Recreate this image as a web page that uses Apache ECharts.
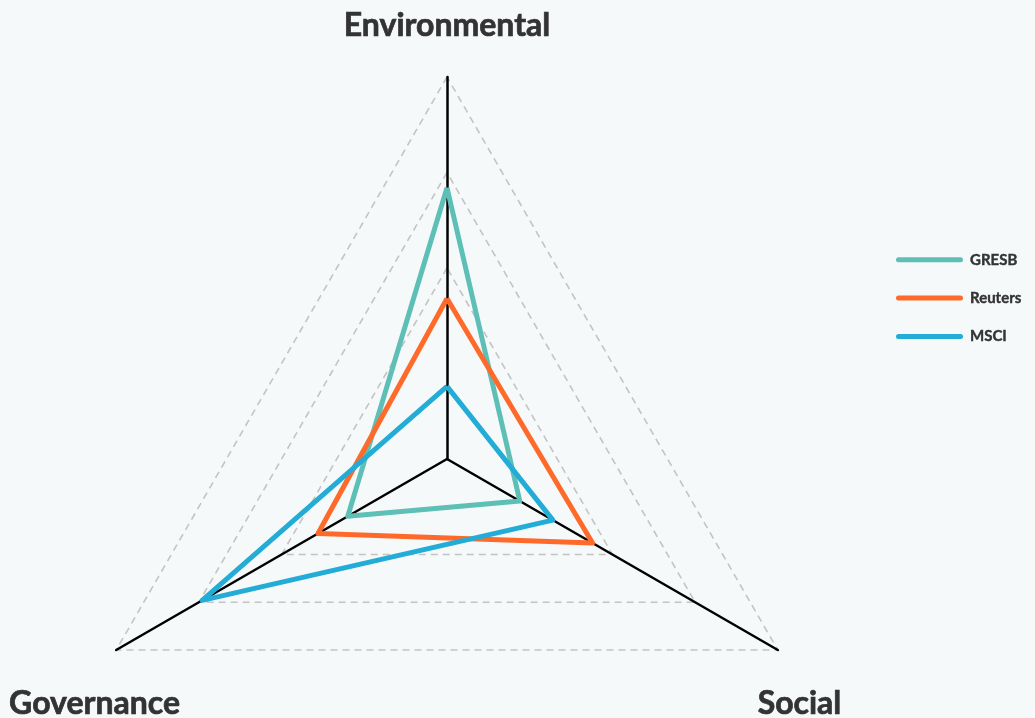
<!DOCTYPE html>
<html>
	<head>
		<meta charset="utf-8">
		<title>ESG ratings</title>
		<script src="https://cdn.jsdelivr.net/npm/echarts@6/dist/echarts.min.js"></script>
		<style>
			html, body { margin: 0; padding: 0; background: #f5f9fa; }
		</style>
	</head>
	<body>
		<div id="main" style="width: 1035px;height:718px;"></div>
		<script>
			// 指标（顺序：上、左下、右下）
			var indicators = ['Environmental', 'Governance', 'Social'];
			var maxValue = 100;
			var providers = ['GRESB', 'Reuters', 'MSCI'];
			var gresb = [71, 30, 22];
			var reuters = [42, 39, 44];
			var msci = [19, 74, 32];
			var colors = ['#5dbfb6', '#ff6a2b', '#22acd6'];

			var myChart = echarts.init(document.getElementById('main'));

			var pill = 'path://M2.5,0 H64.5 A2.5,2.5 0 0 1 64.5,5 H2.5 A2.5,2.5 0 0 1 2.5,0 Z';

			var option = {
				backgroundColor: '#f5f9fa',
				color: colors,
				legend: {
					orient: 'vertical',
					left: 891,
					top: 247,
					icon: pill,
					itemWidth: 67,
					itemHeight: 5,
					itemGap: 23,
					data: providers,
					textStyle: {
						color: '#333',
						fontWeight: 'bold',
						fontSize: 15,
						fontFamily: 'Lato',
						textBorderColor: '#333',
						textBorderWidth: 0.4,
						padding: [0, 0, 0, 2]
					}
				},
				radar: {
					center: [447, 459],
					radius: 382,
					startAngle: 90,
					shape: 'polygon',
					splitNumber: 4,
					indicator: indicators.map(function (n) {
						return { name: n, max: maxValue, min: 0 };
					}),
					nameGap: 25,
					axisName: {
						color: '#333',
						fontSize: 32,
						fontWeight: 'bold',
						fontFamily: 'Lato',
						textBorderColor: '#333',
						textBorderWidth: 0.7,
						align: 'center',
						lineHeight: 41,
						padding: [0, 0, 6, 0],
						// 下方两个名称往下挪
						formatter: function (name) {
							return name === indicators[0] ? name : '\n\n' + name;
						}
					},
					axisLine: {
						lineStyle: { color: '#000', width: 2.5 }
					},
					axisTick: { show: false },
					axisLabel: { show: false },
					splitArea: { show: false },
					splitLine: {
						lineStyle: {
							color: ['transparent', 'transparent', '#c4c4c4', '#c4c4c4', '#c4c4c4'],
							width: 1.6,
							type: [7, 5]
						}
					}
				},
				series: [{
					type: 'radar',
					symbol: 'none',
					lineStyle: { width: 5 },
					data: [
						{ name: 'GRESB', value: gresb, lineStyle: { color: colors[0] }, itemStyle: { color: colors[0] } },
						{ name: 'Reuters', value: reuters, lineStyle: { color: colors[1] }, itemStyle: { color: colors[1] } },
						{ name: 'MSCI', value: msci, lineStyle: { color: colors[2] }, itemStyle: { color: colors[2] } }
					]
				}]
			};

			myChart.setOption(option);
		</script>
	</body>
</html>
